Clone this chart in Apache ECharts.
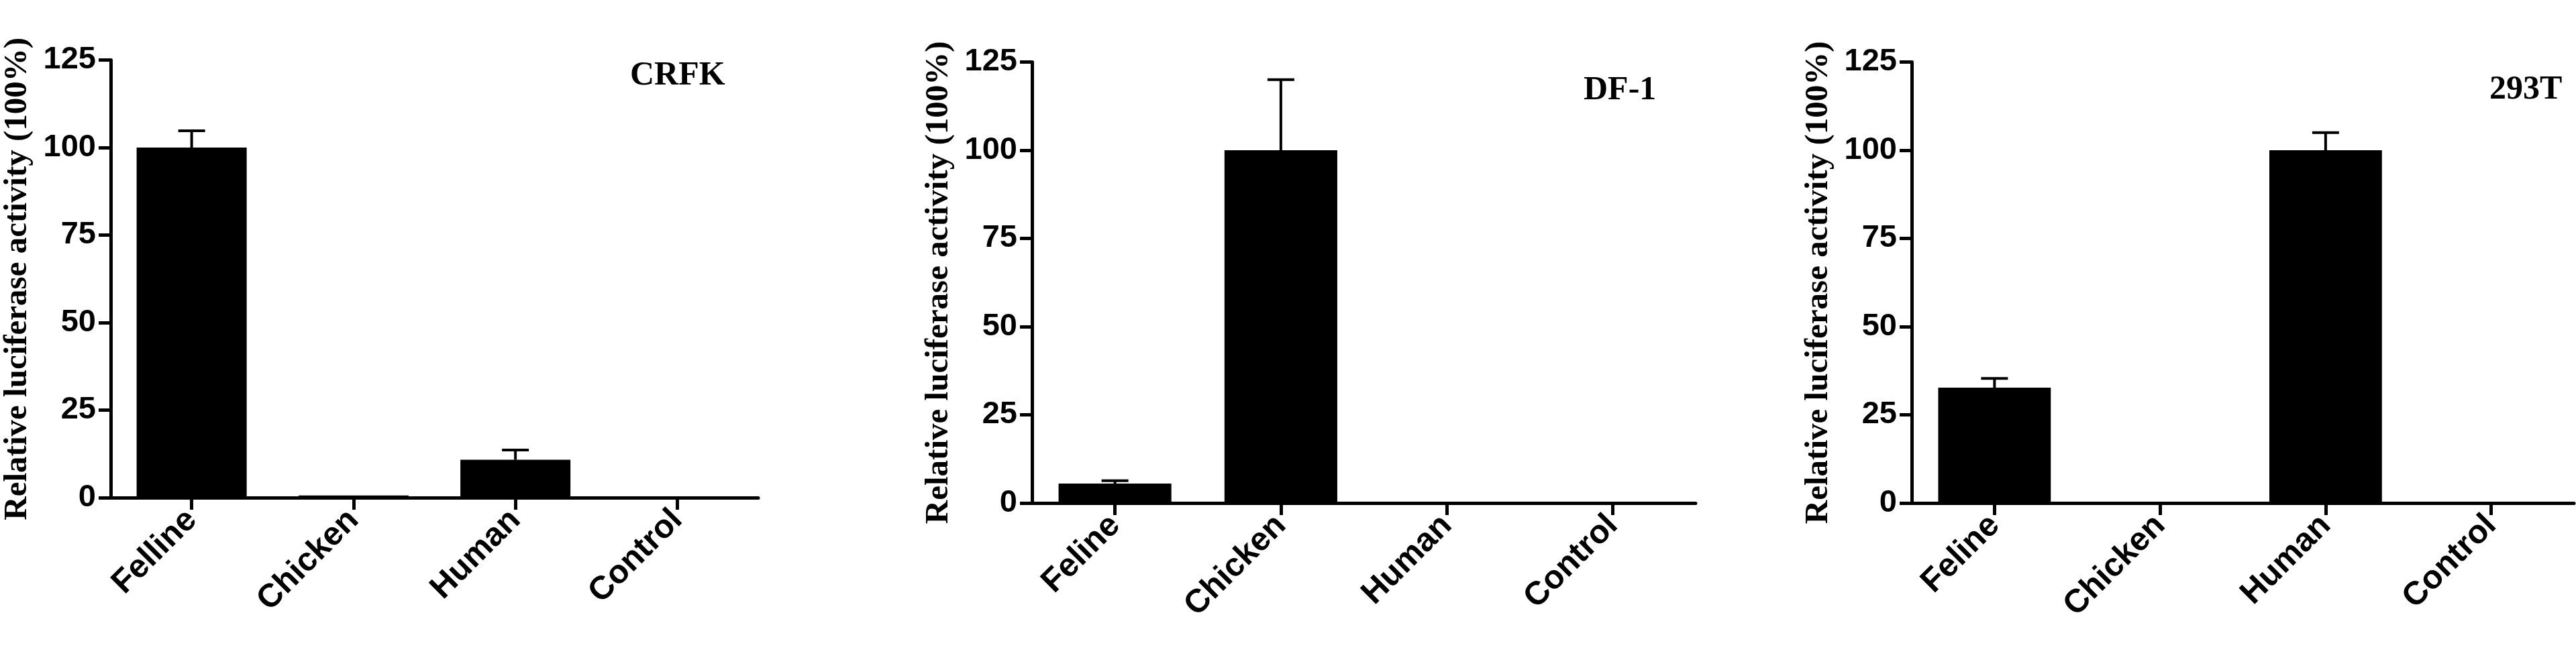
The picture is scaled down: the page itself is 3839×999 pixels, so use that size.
<!DOCTYPE html>
<html><head><meta charset="utf-8">
<script src="https://cdn.jsdelivr.net/npm/echarts@6/dist/echarts.min.js"></script>
<style>html,body{margin:0;padding:0;background:#fff;} #c{width:3839px;height:999px;}</style>
</head><body><div id="c"></div>
<script>
// ---- data ----
const categoriesCRFK = ['Felline', 'Chicken', 'Human', 'Control'];
const categoriesDF1 = ['Feline', 'Chicken', 'Human', 'Control'];
const categories293T = ['Feline', 'Chicken', 'Human', 'Control'];
const valuesCRFK = [100, 0.6, 10.8, 0];
const errorsCRFK = [4.8, 0, 2.8, 0];
const valuesDF1 = [5.5, 100, 0, 0.3];
const errorsDF1 = [0.8, 20, 0, 0];
const values293T = [32.7, 0.3, 100, 0.3];
const errors293T = [2.6, 0, 5, 0];
const panelTitles = ['CRFK', 'DF-1', '293T'];
const yAxisName = 'Relative luciferase activity (100%)';
const yMin = 0, yMax = 125, yInterval = 25;

// ---- layout ----
const grids = [
  {left: 165, top: 89.5, width: 965, height: 652.5},
  {left: 1538, top: 92.5, width: 989, height: 657.5},
  {left: 2849, top: 92.5, width: 987, height: 657.5}
];
const titlePos = [[939, 113], [2360, 135], [3710, 134]];
const panels = [
  {cats: categoriesCRFK, vals: valuesCRFK, errs: errorsCRFK},
  {cats: categoriesDF1, vals: valuesDF1, errs: errorsDF1},
  {cats: categories293T, vals: values293T, errs: errors293T}
];

const sans = 'Liberation Sans, Arial, sans-serif';
const serif = 'Liberation Serif, Times New Roman, serif';
const AX_W = 5;

const xAxis = [], yAxis = [], series = [], graphic = [];
panels.forEach((p, i) => {
  xAxis.push({
    type: 'category', gridIndex: i, data: p.cats,
    axisLine: {lineStyle: {color: '#000', width: AX_W}},
    axisTick: {show: true, alignWithLabel: true, length: 18, lineStyle: {color: '#000', width: AX_W}},
    axisLabel: {rotate: 45, color: '#000', fontFamily: sans, fontWeight: 'bold', fontSize: 49, margin: 26}
  });
  yAxis.push({
    type: 'value', gridIndex: i, min: yMin, max: yMax, interval: yInterval,
    name: yAxisName, nameLocation: 'middle', nameGap: 114,
    nameTextStyle: {color: '#000', fontFamily: serif, fontWeight: 'bold', fontSize: 49},
    axisLine: {show: true, lineStyle: {color: '#000', width: AX_W}},
    axisTick: {show: true, length: 18, lineStyle: {color: '#000', width: AX_W}},
    splitLine: {show: false},
    axisLabel: {color: '#000', fontFamily: sans, fontWeight: 'bold', fontSize: 47, margin: 22}
  });
  series.push({
    type: 'bar', xAxisIndex: i, yAxisIndex: i, data: p.vals,
    barCategoryGap: '32%', itemStyle: {color: '#000'}, z: 2
  });
  series.push({
    type: 'custom', xAxisIndex: i, yAxisIndex: i,
    data: p.vals.map((v, k) => [k, v, p.errs[k]]),
    z: 3,
    renderItem: function (params, api) {
      const err = api.value(2);
      if (!err) return null;
      const base = api.coord([api.value(0), api.value(1)]);
      const top = api.coord([api.value(0), api.value(1) + err]);
      const hw = 20;
      return {
        type: 'group',
        children: [
          {type: 'line', shape: {x1: base[0], y1: base[1], x2: top[0], y2: top[1]}, style: {stroke: '#000', lineWidth: 4}},
          {type: 'line', shape: {x1: top[0] - hw, y1: top[1], x2: top[0] + hw, y2: top[1]}, style: {stroke: '#000', lineWidth: 4}}
        ]
      };
    }
  });
  graphic.push({
    type: 'text', left: titlePos[i][0], top: titlePos[i][1] - 25,
    style: {text: panelTitles[i], fill: '#000', font: 'bold 50px ' + serif}
  });
});

const chart = echarts.init(document.getElementById('c'), null, {renderer: 'canvas'});
chart.setOption({
  backgroundColor: '#fff',
  animation: false,
  grid: grids.map(g => Object.assign({containLabel: false}, g)),
  xAxis, yAxis, series, graphic
});
</script>
</body></html>
